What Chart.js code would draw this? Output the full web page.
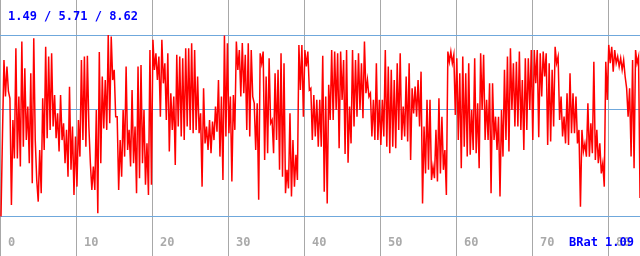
<!DOCTYPE html>
<html><head><meta charset="utf-8">
<script src="https://cdn.jsdelivr.net/npm/chart.js@4"></script>
<style>html,body{margin:0;padding:0;background:#fff;overflow:hidden}canvas{display:block}</style>
</head><body>
<canvas id="c" width="640" height="256"></canvas>
<script>
// trace values, read as high/low pairs along the x axis
const traceA = [1.49,4.69, 7.64,6.20, 7.38,6.40, 6.13,1.94, 5.28,3.77, 8.10,3.77, 6.20,3.45, 8.36,4.23, 7.31,4.49, 5.81,3.58, 7.12,2.79, 8.49,4.49, 2.92,2.07, 4.10,2.40, 6.13,4.10, 8.16,4.56, 7.77,4.89, 7.90,5.02, 6.26,4.56, 5.54,4.04, 6.26,4.49, 5.15,3.58, 4.89,3.05, 6.59,3.32, 5.02,2.33, 4.63,2.66, 5.28,3.84, 7.64,4.49, 7.77,4.23, 7.80,5.02, 3.58,2.53, 3.45,2.53, 5.67,1.61, 7.95,3.58, 6.99,4.95, 6.85,4.89];
const traceB = [8.62,5.15, 8.56,6.85, 7.25,5.41, 5.41,2.53, 4.49,3.05, 5.67,3.84, 7.38,4.10, 4.89,3.45, 6.46,3.58, 5.02,2.40, 7.38,2.99, 7.44,3.58, 5.67,2.73, 4.36,2.33, 8.03,2.73, 8.43,7.25, 7.90,6.85, 7.77,5.41, 8.43,6.72, 7.51,5.28, 7.90,4.04, 6.33,4.89, 6.20,3.51, 7.84,5.02, 7.77,4.63, 7.71,4.49, 8.10,5.02, 8.10,4.89, 8.30,4.76, 8.03,4.89, 6.99,4.76, 5.54,2.66, 6.53,4.36, 5.02,4.10, 5.28,3.97, 5.22,4.49];
const traceC = [5.81,4.82, 6.85,3.84, 6.20,2.92, 8.60,4.63, 8.30,4.76, 6.20,2.86, 6.26,4.89, 8.36,7.25, 8.03,6.20, 8.30,6.33, 7.84,4.89, 8.30,4.63, 8.03,6.20, 5.94,4.10, 5.94,2.14, 7.90,7.51, 7.97,3.71, 6.99,3.97, 7.71,5.15, 5.28,3.97, 7.12,4.49, 7.25,3.32, 7.90,3.05, 7.51,2.40, 3.32,2.59, 5.54,2.27, 4.49,2.66, 3.91,2.92, 8.23,6.46, 8.23,5.41, 8.03,7.38, 7.97,6.46, 6.53,4.49, 6.26,4.63, 6.07,4.23, 6.07,4.23];
const traceD = [7.80,2.46, 6.20,2.00, 6.66,5.28, 8.03,5.28, 7.97,5.67, 7.90,4.17, 7.97,6.07, 7.64,3.94, 8.03,3.60, 5.81,4.36, 8.03,5.02, 7.64,5.41, 7.90,5.67, 7.51,5.35, 8.36,6.33, 6.85,6.20, 6.33,4.63, 6.07,4.49, 7.51,4.49, 6.07,4.30, 6.07,4.63, 8.03,4.23, 7.38,3.97, 7.25,4.23, 6.85,4.17, 7.51,4.89, 7.90,4.49, 5.81,4.63, 6.99,4.43, 7.51,3.71, 6.53,5.54, 6.59,5.41, 6.85,5.02, 7.18,2.00, 5.02,3.18, 6.07,3.32];
const traceE = [6.07,2.92, 3.45,2.99, 4.89,2.86, 6.13,3.18, 5.41,3.32, 4.10,2.33, 7.97,7.57, 7.97,7.51, 7.84,5.48, 7.71,4.49, 7.12,3.38, 7.77,4.23, 7.12,3.84, 7.51,3.91, 5.67,4.10, 7.71,3.97, 5.94,3.38, 7.90,5.67, 7.84,4.49, 6.07,4.49, 6.72,2.40, 6.72,4.49, 5.41,4.10, 5.41,2.27, 5.67,3.84, 7.25,4.49, 7.77,4.04, 8.10,5.67, 7.51,5.02, 7.57,5.02, 7.97,4.89, 6.85,4.10, 7.71,4.89, 7.71,5.67, 8.03,4.49, 8.03,6.72];
const traceF = [8.03,4.60, 7.90,6.20, 7.97,6.99, 7.90,4.30, 7.51,4.43, 7.25,5.02, 8.16,7.51, 7.77,5.28, 6.20,4.63, 5.41,4.36, 6.33,4.30, 7.12,4.76, 6.33,4.76, 6.20,4.36, 4.89,1.87, 4.89,4.04, 4.36,3.84, 5.94,3.84, 5.15,3.97, 7.57,3.71, 4.89,3.58, 4.36,3.18, 3.58,2.66, 7.57,6.07, 8.23,7.51, 8.16,7.18, 8.03,7.51, 7.77,7.38, 7.71,7.25, 7.64,6.99, 6.53,5.41, 6.53,3.84, 7.64,3.38, 8.03,7.51, 7.77,2.21];
const xTickValues = [0,10,20,30,40,50,60,70,80];
const refValues = [1.49, 5.71, 8.62]; // min / mean / max
const bRat = 1.09;
const sampleStep = 0.196;

const series = [].concat(traceA, traceB, traceC, traceD, traceE, traceF);
const points = series.map((v, i) => ({x: i * sampleStep, y: v}));

const overlay = {
  id: 'overlay',
  afterDraw(chart) {
    const ctx = chart.ctx, xs = chart.scales.x;
    ctx.save();
    ctx.font = 'bold 12px "DejaVu Sans Mono", monospace';
    ctx.textBaseline = 'alphabetic';
    ctx.textAlign = 'left';
    ctx.fillStyle = '#aaaaaa';
    xTickValues.forEach(v => ctx.fillText(String(v), xs.getPixelForValue(v) + 7, 246));
    ctx.fillStyle = '#0000ff';
    ctx.fillText(refValues.map(v => v.toFixed(2)).join(' / '), 8, 20);
    ctx.fillText('BRat ' + bRat.toFixed(2), 569, 246);
    ctx.restore();
  }
};

new Chart(document.getElementById('c'), {
  type: 'line',
  data: {datasets: [{data: points, borderColor: '#ff0000', borderWidth: 1.5, pointRadius: 0, tension: 0, fill: false}]},
  options: {
    responsive: false, animation: false, events: [],
    layout: {padding: 0},
    plugins: {legend: {display: false}, tooltip: {enabled: false}},
    scales: {
      x: {type: 'linear', min: -0.13, max: 84.08, z: 1,
          afterBuildTicks: s => { s.ticks = xTickValues.map(v => ({value: v})); },
          ticks: {display: false}, grid: {color: '#a8a8a8', drawTicks: false, lineWidth: 1}, border: {display: false}},
      y: {type: 'linear', min: -0.067, max: 9.996, z: 1,
          afterBuildTicks: s => { s.ticks = refValues.map(v => ({value: v})); },
          ticks: {display: false}, grid: {color: '#6fa8dc', drawTicks: false, lineWidth: 1}, border: {display: false}}
    }
  },
  plugins: [overlay]
});
</script>
</body></html>
